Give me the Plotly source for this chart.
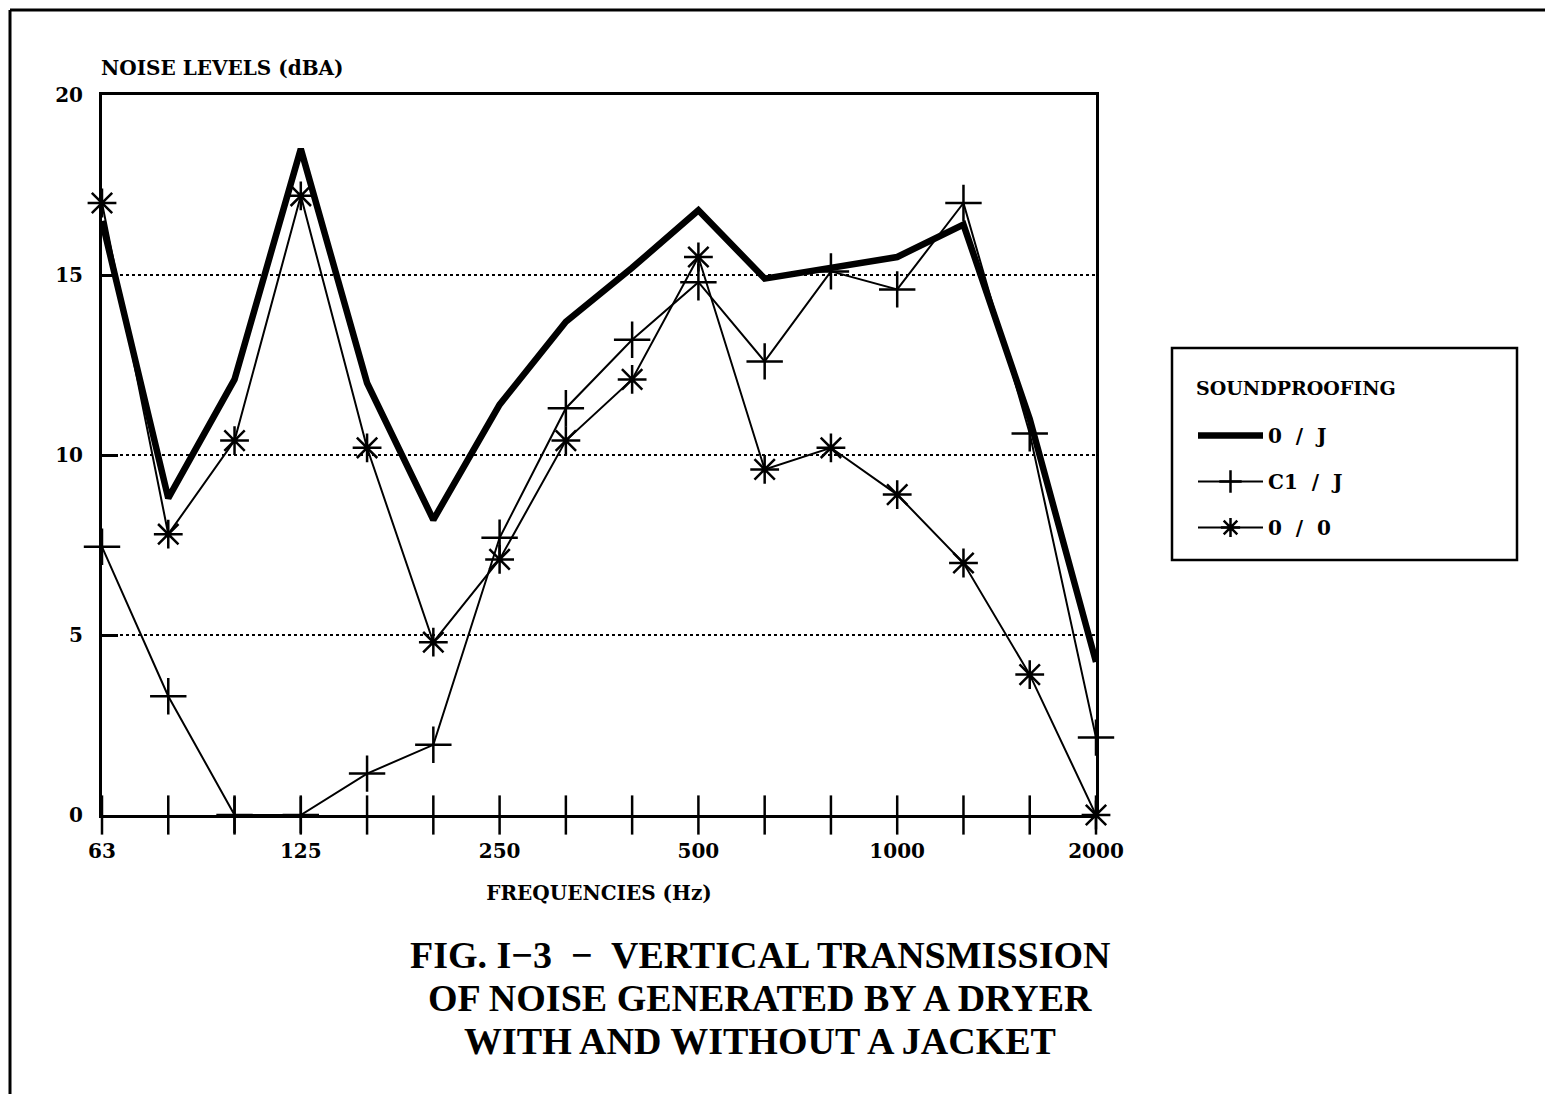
import plotly.graph_objects as go

freqs = ["63", "80", "100", "125", "160", "200", "250", "315", "400", "500",
         "630", "800", "1000", "1250", "1600", "2000"]
labelled = ["63", "125", "250", "500", "1000", "2000"]

o_j = [16.5, 8.8, 12.1, 18.5, 12.0, 8.2, 11.4, 13.7, 15.2, 16.8,
       14.9, 15.2, 15.5, 16.4, 11.0, 4.25]
c1_j = [7.45, 3.3, 0.0, 0.0, 1.15, 1.95, 7.7, 11.3, 13.2, 14.8,
        12.6, 15.1, 14.6, 17.0, 10.6, 2.15]
o_o = [17.0, 7.8, 10.4, 17.2, 10.2, 4.8, 7.1, 10.4, 12.1, 15.5,
       9.6, 10.2, 8.9, 7.0, 3.9, 0.0]

y_ticks = [0, 5, 10, 15, 20]

x = list(range(len(freqs)))
FONT = "DejaVu Serif"

# page has an 8px body margin; plot area in page pixels: x 102..1096, y 95..815
def px(v):
    return (v - 102) / 994.0

def py(v):
    return (815 - v) / 720.0

fig = go.Figure()

# axis tick marks crossing the x axis at every frequency
fig.add_trace(go.Scatter(
    x=x, y=[0] * len(x), mode="markers", showlegend=False, hoverinfo="skip",
    cliponaxis=False,
    marker=dict(symbol="line-ns", size=28, line=dict(color="black", width=2.5)),
))

fig.add_trace(go.Scatter(
    x=x, y=o_j, mode="lines", name="<b>0  /  J</b>", cliponaxis=False,
    legendgroup="a",
    line=dict(color="black", width=6.5),
))
fig.add_trace(go.Scatter(
    x=x, y=c1_j, mode="lines+markers", name="<b>C1  /  J</b>", cliponaxis=False,
    legendgroup="b",
    line=dict(color="black", width=2),
    marker=dict(symbol="cross-thin-open", size=26, line=dict(color="black", width=2.5)),
))
fig.add_trace(go.Scatter(
    x=x, y=o_o, mode="lines+markers", name="<b>0  /  0</b>", cliponaxis=False,
    legendgroup="c",
    line=dict(color="black", width=2),
    marker=dict(symbol="asterisk-open", size=24, line=dict(color="black", width=2.5)),
))

fig.update_layout(
    width=1545, height=1086,
    margin=dict(l=94, r=457, t=87, b=279),
    paper_bgcolor="white", plot_bgcolor="white",
    font=dict(family=FONT, color="black", size=16),
    showlegend=True,
    legend=dict(
        x=px(1193), y=py(416), xanchor="left", yanchor="top",
        xref="paper", yref="paper",
        borderwidth=0, bgcolor="rgba(0,0,0,0)",
        font=dict(family=FONT, size=20, color="black"),
        itemwidth=65, tracegroupgap=17,
    ),
    xaxis=dict(
        range=[0, len(freqs) - 1],
        tickmode="array",
        tickvals=[freqs.index(f) for f in labelled],
        ticktext=["<b>%s</b>" % f for f in labelled],
        ticks="", showgrid=False, zeroline=False,
        showline=True, linecolor="black", linewidth=3, mirror=True,
        tickfont=dict(family=FONT, size=20),
        ticklabelstandoff=16,
        title=dict(text="<b>FREQUENCIES (Hz)</b>", font=dict(family=FONT, size=20), standoff=24),
    ),
    yaxis=dict(
        range=[0, 20],
        tickmode="array", tickvals=y_ticks,
        ticktext=["<b>%d</b>" % v for v in y_ticks],
        ticks="inside", ticklen=16, tickwidth=2.5, tickcolor="black",
        showgrid=True, gridcolor="black", gridwidth=2, griddash="dot",
        zeroline=False,
        showline=True, linecolor="black", linewidth=3, mirror=True,
        tickfont=dict(family=FONT, size=20),
        ticklabelstandoff=12,
    ),
)

fig.add_annotation(
    text="<b>NOISE LEVELS (dBA)</b>", xref="paper", yref="paper",
    x=px(99), y=py(68), xanchor="left", yanchor="middle", showarrow=False,
    font=dict(family=FONT, size=20),
)

fig.add_annotation(
    text="<b>SOUNDPROOFING</b>", xref="paper", yref="paper",
    x=px(1194), y=py(388), xanchor="left", yanchor="middle", showarrow=False,
    font=dict(family=FONT, size=19),
)

caption = ["FIG. I\u22123  \u2212  VERTICAL TRANSMISSION",
           "OF NOISE GENERATED BY A DRYER",
           "WITH AND WITHOUT A JACKET"]
for i, line in enumerate(caption):
    fig.add_annotation(
        text="<b>%s</b>" % line, xref="paper", yref="paper",
        x=px(760), y=py(955 + 43 * i),
        xanchor="center", yanchor="middle", showarrow=False,
        font=dict(family="Liberation Serif", size=38),
    )

# legend frame
fig.add_shape(type="rect", xref="paper", yref="paper",
              x0=px(1172), x1=px(1517), y0=py(560), y1=py(348),
              line=dict(color="black", width=2.5), fillcolor="rgba(0,0,0,0)")

# outer frame (left and top edges)
fig.add_shape(type="line", xref="paper", yref="paper",
              x0=px(10), x1=px(10), y0=py(10), y1=py(1100),
              line=dict(color="black", width=3))
fig.add_shape(type="line", xref="paper", yref="paper",
              x0=px(10), x1=px(1560), y0=py(10), y1=py(10),
              line=dict(color="black", width=3))

fig.write_html("out.html")
